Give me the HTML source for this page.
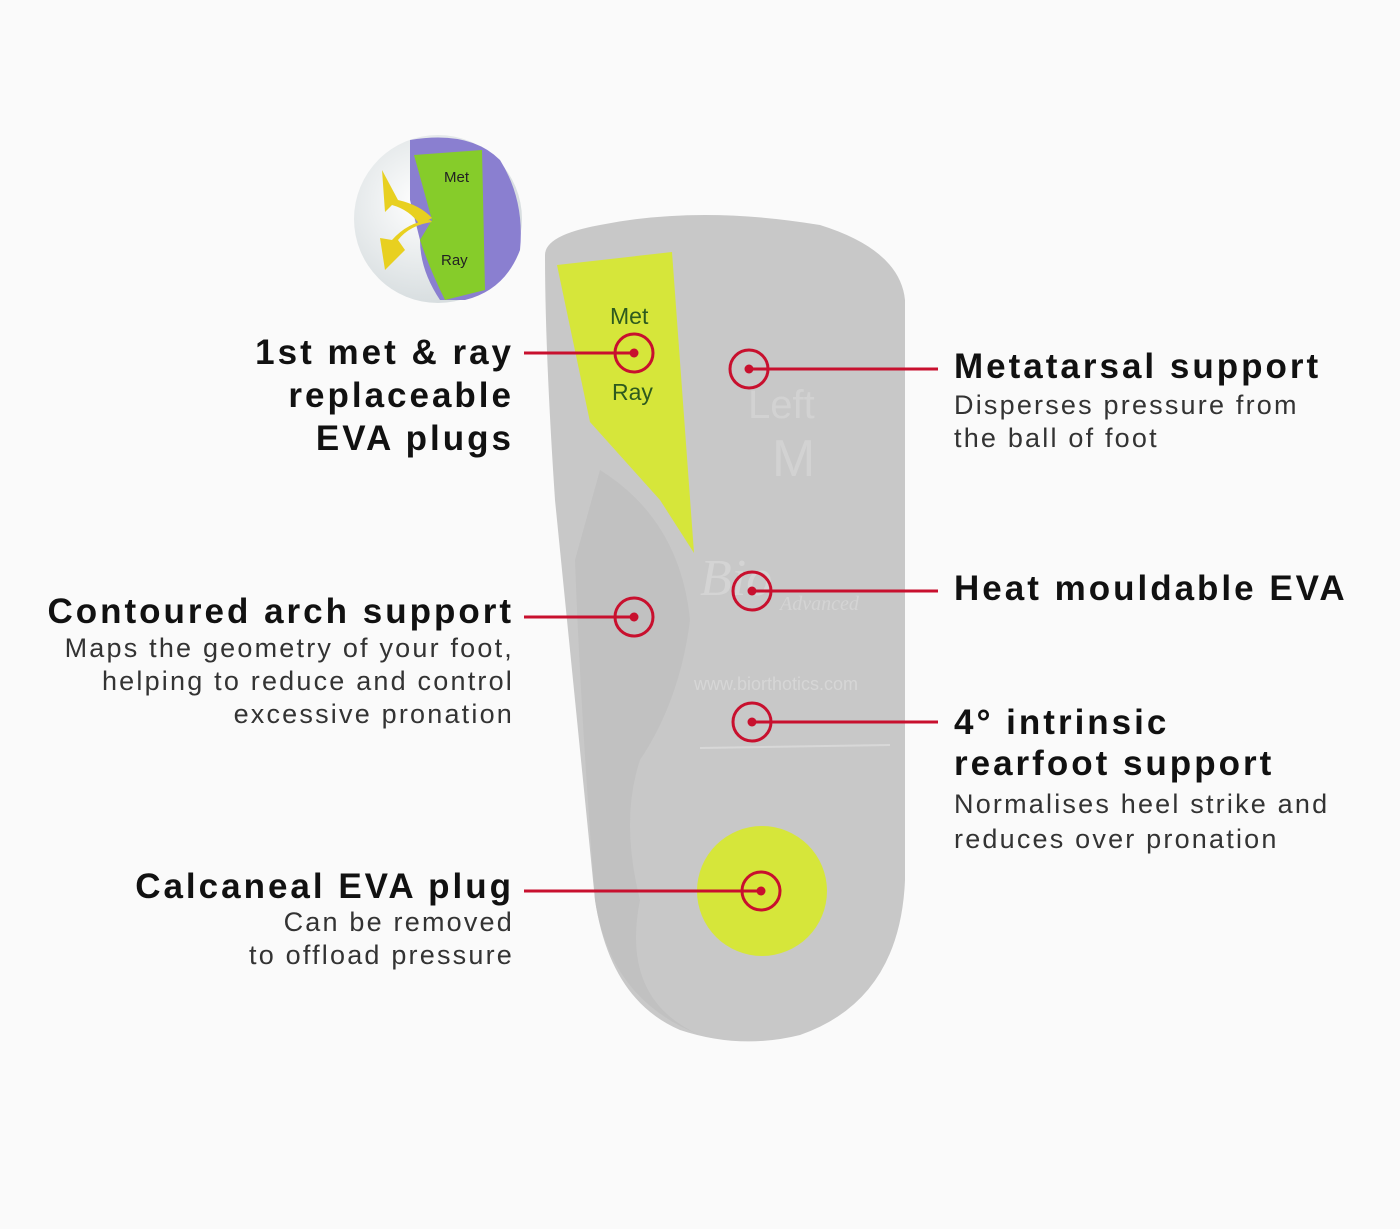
<!DOCTYPE html>
<html><head><style>
html,body{margin:0;padding:0;background:#fafafa;}
body{width:1400px;height:1229px;position:relative;overflow:hidden;font-family:"Liberation Sans",sans-serif;color:#111;}
.h{position:absolute;font-weight:bold;font-size:35px;line-height:43px;letter-spacing:3px;white-space:nowrap;}
.s{position:absolute;font-size:27px;line-height:33px;color:#333;letter-spacing:2.2px;white-space:nowrap;}
.r{text-align:right;}
</style></head><body>
<svg width="1400" height="1229" style="position:absolute;left:0;top:0">
<defs>
<radialGradient id="bub" cx="0.4" cy="0.4" r="0.6"><stop offset="0" stop-color="#fff"/><stop offset="1" stop-color="#d8dee0"/></radialGradient>
</defs>
<circle cx="438" cy="219" r="84" fill="url(#bub)"/>
<path d="M410 140 Q470 130 500 160 Q525 200 520 250 Q505 290 465 300 L440 300 Q420 270 420 240 L410 200 Z" fill="#8a7fd0"/>
<path d="M414 155 L482 150 L485 290 L445 300 Q430 270 420 240 L432 220 Z" fill="#86cc2a"/>
<path d="M382 170 L398 200 Q420 205 432 218 L420 225 Q410 210 392 205 L385 212 Z" fill="#e8d020"/>
<path d="M432 222 Q410 225 398 240 L405 250 L385 270 L380 238 L392 240 Q408 222 430 220 Z" fill="#e8d020"/>
<text x="444" y="182" font-size="15" font-family="Liberation Sans" fill="#222">Met</text>
<text x="441" y="265" font-size="15" font-family="Liberation Sans" fill="#222">Ray</text>
<path d="M545 255 Q545 235 600 225 Q700 205 820 225 Q900 250 905 300 L905 880 Q900 1000 800 1035 Q740 1050 680 1030 Q610 1000 595 900 Q575 700 555 500 Q545 350 545 255 Z" fill="#c8c8c8"/>
<path d="M600 470 Q680 520 690 620 Q680 700 640 760 Q620 820 640 900 Q620 1000 700 1035 Q610 1000 595 900 Q580 700 575 560 Z" fill="#c1c1c1"/>
<polygon points="557,265 672,252 694,553 660,500 590,422" fill="#d6e63a"/>
<text x="610" y="324" font-size="23" fill="#2d5a1e" font-family="Liberation Sans">Met</text>
<text x="612" y="400" font-size="23" fill="#2d5a1e" font-family="Liberation Sans">Ray</text>
<text x="748" y="418" font-size="40" fill="#d2d2d2" font-family="Liberation Sans">Left</text>
<text x="772" y="476" font-size="52" fill="#d2d2d2" font-family="Liberation Sans">M</text>
<text x="700" y="595" font-size="52" fill="#d4d4d4" font-style="italic" font-family="Liberation Serif">Bio</text>
<text x="780" y="610" font-size="20" fill="#d4d4d4" font-style="italic" font-family="Liberation Serif">Advanced</text>
<text x="694" y="690" font-size="18" fill="#d6d6d6" font-family="Liberation Sans">www.biorthotics.com</text>
<line x1="700" y1="748" x2="890" y2="745" stroke="#d8d8d8" stroke-width="2"/>
<circle cx="762" cy="891" r="65" fill="#d6e63a"/>
<g stroke="#c8102e" stroke-width="3" fill="none">
<circle cx="634" cy="353" r="19"/><line x1="524" y1="353" x2="634" y2="353"/>
<circle cx="749" cy="369" r="19"/><line x1="749" y1="369" x2="938" y2="369"/>
<circle cx="752" cy="591" r="19"/><line x1="752" y1="591" x2="938" y2="591"/>
<circle cx="634" cy="617" r="19"/><line x1="524" y1="617" x2="634" y2="617"/>
<circle cx="752" cy="722" r="19"/><line x1="752" y1="722" x2="938" y2="722"/>
<circle cx="761" cy="891" r="19"/><line x1="524" y1="891" x2="761" y2="891"/>
</g>
<g fill="#c8102e">
<circle cx="634" cy="353" r="4.5"/><circle cx="749" cy="369" r="4.5"/><circle cx="752" cy="591" r="4.5"/>
<circle cx="634" cy="617" r="4.5"/><circle cx="752" cy="722" r="4.5"/><circle cx="761" cy="891" r="4.5"/>
</g>
</svg>
<div class="h r" style="right:886px;top:331px;">1st met &amp; ray<br>replaceable<br>EVA plugs</div>
<div class="h r" style="right:886px;top:590px;">Contoured arch support</div>
<div class="s r" style="right:886px;top:632px;">Maps the geometry of your foot,<br>helping to reduce and control<br>excessive pronation</div>
<div class="h r" style="right:886px;top:865px;">Calcaneal EVA plug</div>
<div class="s r" style="right:886px;top:906px;">Can be removed<br>to offload pressure</div>
<div class="h" style="left:954px;top:345px;">Metatarsal support</div>
<div class="s" style="left:954px;top:389px;">Disperses pressure from<br>the ball of foot</div>
<div class="h" style="left:954px;top:567px;">Heat mouldable EVA</div>
<div class="h" style="left:954px;top:702px;line-height:41px;">4° intrinsic<br>rearfoot support</div>
<div class="s" style="left:954px;top:787px;line-height:35px;">Normalises heel strike and<br>reduces over pronation</div>
</body></html>
